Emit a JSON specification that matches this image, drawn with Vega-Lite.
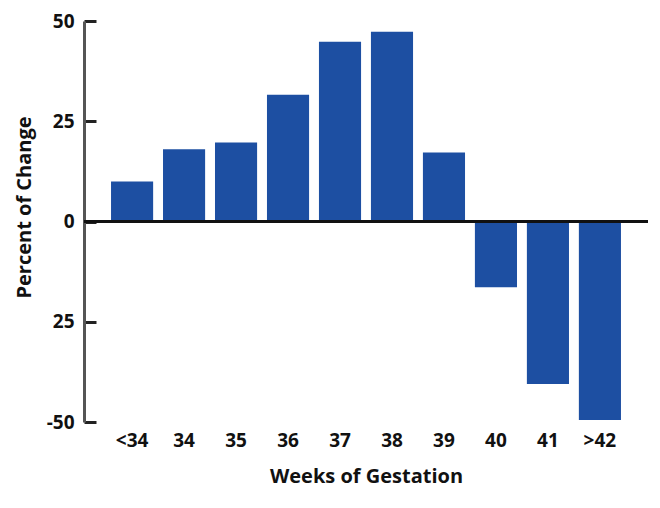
{
  "$schema": "https://vega.github.io/schema/vega-lite/v6.json",
  "width": 564,
  "height": 401,
  "autosize": {"type": "none"},
  "padding": {"left": 84, "top": 21, "right": 12, "bottom": 86},
  "background": "white",
  "config": {
    "view": {"stroke": null},
    "font": "Open Sans",
    "axis": {"grid": false}
  },
  "data": {
    "values": [
      {"week": "<34", "change": 10},
      {"week": "34", "change": 18},
      {"week": "35", "change": 19.7},
      {"week": "36", "change": 31.6},
      {"week": "37", "change": 44.8},
      {"week": "38", "change": 47.3},
      {"week": "39", "change": 17.2},
      {"week": "40", "change": -16.4},
      {"week": "41", "change": -40.5},
      {"week": ">42", "change": -49.5}
    ]
  },
  "layer": [
    {
      "mark": {"type": "bar", "color": "#1d4fa2"},
      "encoding": {
        "x": {
          "field": "week",
          "type": "nominal",
          "sort": null,
          "scale": {"paddingInner": 0.19, "paddingOuter": 0.52},
          "axis": {
            "title": "Weeks of Gestation",
            "domain": false,
            "ticks": false,
            "labelAngle": 0,
            "labelFontSize": 19,
            "labelFontWeight": "bold",
            "labelColor": "#111",
            "labelPadding": 9,
            "titleFontSize": 20,
            "titleFontWeight": "bold",
            "titleColor": "#111",
            "titlePadding": 16
          }
        },
        "y": {
          "field": "change",
          "type": "quantitative",
          "scale": {"domain": [-50, 50], "nice": false},
          "axis": {
            "title": "Percent of Change",
            "titleY": 186,
            "values": [-50, -25, 0, 25, 50],
            "labelExpr": "datum.value == -25 ? '25' : toString(datum.value)",
            "domainColor": "#555",
            "domainWidth": 3,
            "tickColor": "#222",
            "tickWidth": 3,
            "tickSize": -12,
            "labelPadding": 22,
            "labelFontSize": 19,
            "labelFontWeight": "bold",
            "labelColor": "#111",
            "titleFontSize": 20,
            "titleFontWeight": "bold",
            "titleColor": "#111",
            "titlePadding": 12
          }
        }
      }
    },
    {
      "mark": {"type": "rule", "color": "#111", "strokeWidth": 3},
      "encoding": {"y": {"datum": 0}}
    }
  ]
}
